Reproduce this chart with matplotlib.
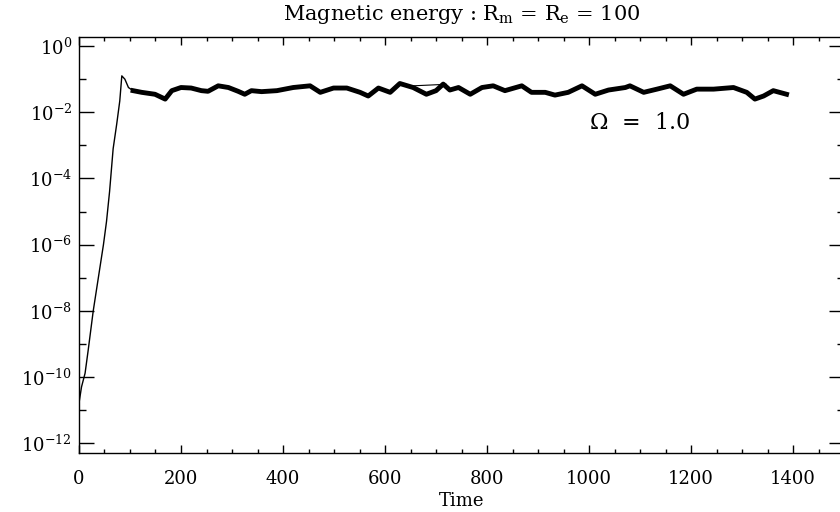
import numpy as np
from matplotlib import pyplot as plt
from matplotlib.ticker import MultipleLocator, FixedLocator, NullFormatter

plt.rcParams['font.family'] = 'DejaVu Serif'
plt.rcParams['mathtext.fontset'] = 'dejavuserif'

# growth phase
rise_time = [0, 5, 12, 18, 28, 38, 48, 54, 60, 67, 74, 80, 84, 90, 97, 106]
rise_energy = [1.6e-11, 5.0e-11, 1.3e-10, 6.3e-10, 1.0e-8, 1.0e-7, 1.0e-6, 5.0e-6,
               4.0e-5, 7.9e-4, 4.4e-3, 2.2e-2, 1.26e-1, 1.0e-1, 5.6e-2, 4.5e-2]

# saturated phase
sat_time = [106, 123, 149, 169, 182, 200, 220, 240, 253, 273, 293, 312, 325, 338, 358,
            388, 420, 453, 473, 499, 525, 551, 567, 587, 610, 629, 655, 681, 700, 714,
            727, 744, 767, 790, 812, 835, 868, 887, 914, 933, 959, 986, 1012, 1038, 1071,
            1080, 1107, 1133, 1159, 1185, 1211, 1244, 1283, 1309, 1325, 1342, 1361, 1387]
sat_energy = [4.5e-2, 4.0e-2, 3.5e-2, 2.5e-2, 4.5e-2, 5.6e-2, 5.4e-2, 4.5e-2, 4.3e-2, 6.3e-2,
              5.6e-2, 4.3e-2, 3.5e-2, 4.5e-2, 4.2e-2, 4.5e-2, 5.6e-2, 6.3e-2, 4.0e-2, 5.4e-2,
              5.4e-2, 4.0e-2, 3.1e-2, 5.4e-2, 4.0e-2, 7.4e-2, 5.6e-2, 3.5e-2, 4.5e-2, 7.1e-2,
              4.7e-2, 5.6e-2, 3.5e-2, 5.6e-2, 6.3e-2, 4.5e-2, 6.3e-2, 4.0e-2, 4.0e-2, 3.3e-2,
              4.0e-2, 6.3e-2, 3.5e-2, 4.7e-2, 5.6e-2, 6.3e-2, 4.0e-2, 5.0e-2, 6.3e-2, 3.5e-2,
              5.0e-2, 5.0e-2, 5.6e-2, 4.0e-2, 2.5e-2, 3.1e-2, 4.5e-2, 3.5e-2]

# short thin overlapping piece near t=700
overlap_time = [655, 720]
overlap_energy = [6.3e-2, 7.0e-2]

yticks = [1e-12, 1e-10, 1e-8, 1e-6, 1e-4, 1e-2, 1e0]
ytick_labels = [r'$10^{-12}$', r'$10^{-10}$', r'$10^{-8}$', r'$10^{-6}$',
                r'$10^{-4}$', r'$10^{-2}$', r'$10^{0}$']
yminor = [1e-13, 1e-11, 1e-9, 1e-7, 1e-5, 1e-3, 1e-1]

fig = plt.figure(figsize=(8.4, 5.12), dpi=100)
ax = fig.add_axes([0.094, 0.115, 0.911, 0.813])

ax.plot(rise_time, rise_energy, color='black', linewidth=1.0)
ax.plot(sat_time, sat_energy, color='black', linewidth=3.5)
ax.plot(overlap_time, overlap_energy, color='black', linewidth=0.8)

ax.set_yscale('log')
ax.set_xlim(0, 1500)
ax.set_ylim(5e-13, 1.9)

ax.xaxis.set_major_locator(MultipleLocator(200))
ax.xaxis.set_minor_locator(MultipleLocator(50))
ax.yaxis.set_major_locator(FixedLocator(yticks))
ax.set_yticklabels(ytick_labels)
ax.yaxis.set_minor_locator(FixedLocator(yminor))
ax.yaxis.set_minor_formatter(NullFormatter())

ax.tick_params(axis='both', which='both', direction='in', top=True, right=True,
               labelsize=13, width=1)
ax.tick_params(axis='y', which='major', length=11, pad=5)
ax.tick_params(axis='y', which='minor', length=5)
ax.tick_params(axis='x', which='major', length=6, pad=12)
ax.tick_params(axis='x', which='minor', length=3)

for s in ax.spines.values():
    s.set_linewidth(1)

ax.set_xlabel('Time', fontsize=13, labelpad=3)
ax.set_title(r'Magnetic energy : R$_\mathrm{m}$ = R$_\mathrm{e}$ = 100', fontsize=15, pad=12)
ax.text(1100, 10 ** -2.32, r'$\Omega$  =  1.0', fontsize=16, ha='center', va='center')

plt.savefig('out.png', dpi=100)
